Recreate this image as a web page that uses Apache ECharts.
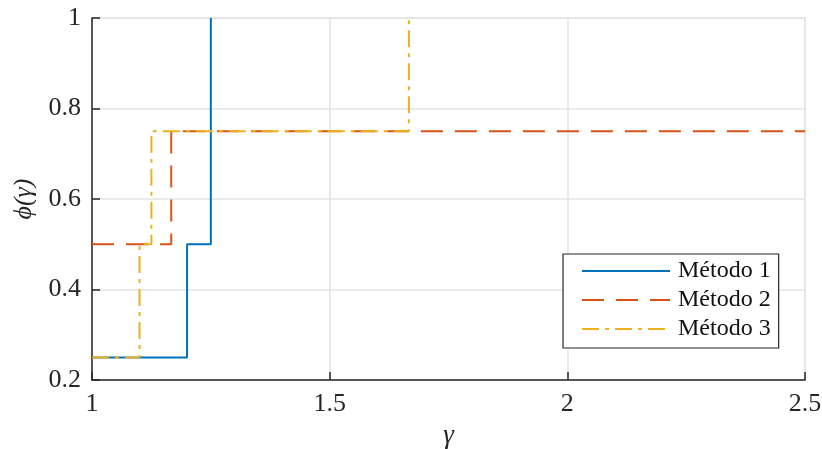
<!DOCTYPE html>
<html>
<head>
<meta charset="utf-8">
<script src="https://cdn.jsdelivr.net/npm/echarts@6/dist/echarts.min.js"></script>
<style>
  html, body { margin: 0; padding: 0; background: #fff; }
  #chart { width: 822px; height: 449px; }
</style>
</head>
<body>
<div id="chart"></div>
<script>
// Step curves: each list holds the corner points of the staircase (gamma, phi)
const metodo1 = [[1, 0.25], [1.2, 0.25], [1.2, 0.5], [1.25, 0.5], [1.25, 1]];
const metodo2 = [[1, 0.5], [1.1667, 0.5], [1.1667, 0.75], [2.5, 0.75]];
const metodo3 = [[1, 0.25], [1.1, 0.25], [1.1, 0.5], [1.125, 0.5], [1.125, 0.75], [1.6667, 0.75], [1.6667, 1]];
const seriesNames = ['Método 1', 'Método 2', 'Método 3'];
const xTicks = [1, 1.5, 2, 2.5];
const yTicks = [0.2, 0.4, 0.6, 0.8, 1];

const serif = '"Liberation Serif", "DejaVu Serif", serif';
const axisColor = '#262626';
const gridColor = '#e3e3e3';

const chart = echarts.init(document.getElementById('chart'), null, { renderer: 'canvas' });

function tickLabel(v) {
  return String(Math.round(v * 10) / 10);
}

chart.setOption({
  animation: false,
  backgroundColor: '#ffffff',
  grid: {
    left: 92, right: 17, top: 18, bottom: 69,
    containLabel: false, outerBoundsMode: 'none',
    show: true, borderColor: gridColor, borderWidth: 1.5
  },
  xAxis: {
    type: 'value',
    min: xTicks[0], max: xTicks[xTicks.length - 1], interval: 0.5,
    name: 'γ', nameLocation: 'middle', nameGap: 42,
    nameTextStyle: { fontFamily: serif, fontStyle: 'italic', fontSize: 27, color: axisColor },
    axisLine: { show: true, onZero: false, lineStyle: { color: axisColor, width: 1.5 } },
    axisTick: { show: true, inside: true, length: 8, lineStyle: { color: axisColor, width: 1.5 } },
    axisLabel: { fontFamily: serif, fontSize: 26, color: axisColor, margin: 11, formatter: tickLabel },
    splitLine: { show: true, lineStyle: { color: gridColor, width: 1.5 } }
  },
  yAxis: {
    type: 'value',
    min: yTicks[0], max: yTicks[yTicks.length - 1], interval: 0.2,
    name: 'ϕ(γ)', nameLocation: 'middle', nameGap: 50, nameRotate: 90,
    nameTextStyle: { fontFamily: serif, fontStyle: 'italic', fontSize: 26, color: axisColor },
    axisLine: { show: true, onZero: false, lineStyle: { color: axisColor, width: 1.5 } },
    axisTick: { show: true, inside: true, length: 8, lineStyle: { color: axisColor, width: 1.5 } },
    axisLabel: { fontFamily: serif, fontSize: 26, color: axisColor, margin: 11, formatter: tickLabel },
    splitLine: { show: true, lineStyle: { color: gridColor, width: 1.5 } }
  },
  legend: {
    orient: 'vertical',
    left: 563, top: 254,
    data: seriesNames,
    backgroundColor: '#ffffff',
    borderColor: axisColor, borderWidth: 1.2,
    padding: [5, 8, 7, 18],
    itemWidth: 88, itemHeight: 14, itemGap: 5,
    itemStyle: { opacity: 0 },
    textStyle: { fontFamily: serif, fontSize: 24, color: '#111', padding: [0, 0, 0, 3] }
  },
  series: [
    {
      name: seriesNames[0], type: 'line', data: metodo1, symbol: 'none', clip: true,
      color: '#0072BD',
      lineStyle: { color: '#0072BD', width: 2 }
    },
    {
      name: seriesNames[1], type: 'line', data: metodo2, symbol: 'none', clip: true,
      color: '#D95319',
      lineStyle: { color: '#D95319', width: 2, type: [22, 12] }
    },
    {
      name: seriesNames[2], type: 'line', data: metodo3, symbol: 'none', clip: true,
      color: '#EDB120',
      lineStyle: { color: '#EDB120', width: 2, type: [17, 6, 4, 6] }
    }
  ]
});
</script>
</body>
</html>
